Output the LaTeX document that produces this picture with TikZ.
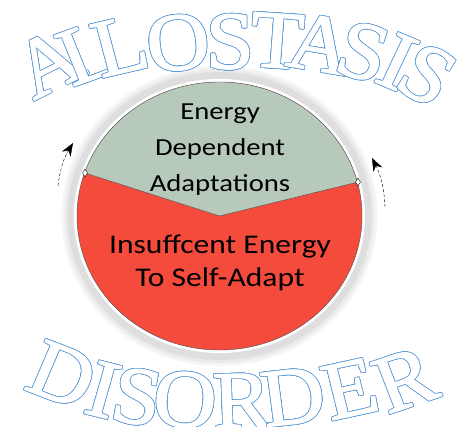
\documentclass[tikz,border=0pt]{standalone}
\usepackage{fontspec}
\setmainfont{Carlito}
\newfontfamily\arcfont[FakeBold=1.6]{Liberation Serif}
\usepackage{contour}
\contourlength{0.6pt}
\contournumber{24}
\usetikzlibrary{arrows.meta,shapes.geometric}

\definecolor{capgreen}{RGB}{183,201,186}
\definecolor{lowred}{RGB}{244,75,61}
\definecolor{arcblue}{RGB}{95,155,215}
\definecolor{ringgray}{RGB}{222,222,222}

\newcommand{\arcletter}[1]{\contour{arcblue}{\textcolor{white}{#1}}}

\begin{document}
\begin{tikzpicture}[
    x=1pt,y=-1pt,
    letter/.style={inner sep=0pt,xscale=1.06,font=\arcfont\fontsize{82}{82}\selectfont},
    divmark/.style={diamond,draw=black,fill=white,inner sep=0pt,minimum width=5pt,minimum height=8pt},
    turn/.style={densely dashed,thin,-{Stealth[length=13pt,width=10pt]}},
    segtext/.style={align=center,text=black,xscale=1.17,inner sep=0pt}
  ]
  \useasboundingbox (0,0) rectangle (457,427);

  \coordinate (mid) at (219.5,216);
  \coordinate (lp) at (85,173);
  \coordinate (rp) at (358,182);
  \coordinate (ltail) at (58,186);
  \coordinate (lhead) at (73,143);
  \coordinate (rtail) at (385,207);
  \coordinate (rhead) at (372,158);

  % ring and shadow
  \fill[black!4] (mid) ellipse [x radius=158, y radius=150];
  \fill[black!8] (mid) ellipse [x radius=155, y radius=147];
  \fill[ringgray] (mid) ellipse [x radius=152, y radius=144];
  \fill[white] (mid) ellipse [x radius=145.5, y radius=137];

  % the two parts
  \fill[lowred] (mid) ellipse [x radius=142.5, y radius=134];
  \begin{scope}
    \clip (mid) ellipse [x radius=142.5, y radius=134];
    \fill[capgreen] (lp) -- (mid) -- (rp) -- (380,60) -- (60,60) -- cycle;
  \end{scope}
  \draw[black!70,thin] (lp) -- (mid) -- (rp);
  \draw[black!70,thin] (mid) ellipse [x radius=142.5, y radius=134];

  \node[divmark] (lmark) at (lp) {};
  \node[divmark] (rmark) at (rp) {};

  \draw[turn] (ltail) to[bend left=12] (lhead);
  \draw[turn] (rtail) to[bend right=12] (rhead);

  \node[segtext,font=\fontsize{24.5}{36}\selectfont] (upper) at (220,150) {Energy\\Dependent\\Adaptations};
  \node[segtext,font=\fontsize{27}{33}\selectfont] (lower) at (220,263) {Insuffcent Energy\\To Self-Adapt};

  % arched words
  \foreach \ch/\px/\py/\rot [count=\i] in {A/48/63/28,L/87/53/21,L/120/46/14,O/178/43/6,S/230/42/0,
      T/277/41/-4,A/320/44/-10,S/363/52/-17,I/397/62/-24,S/427/75/-31}
    \node[letter,rotate=\rot] (top\i) at (\px,\py) {\arcletter{\ch}};
  \foreach \ch/\px/\py/\rot [count=\i] in {D/62/375/-22,I/103/390/-15,S/137/397/-10,O/185/400/-4,
      R/242/401/2,D/293/397/7,E/350/389/13,R/405/380/20}
    \node[letter,rotate=\rot] (bot\i) at (\px,\py) {\arcletter{\ch}};
\end{tikzpicture}
\end{document}
